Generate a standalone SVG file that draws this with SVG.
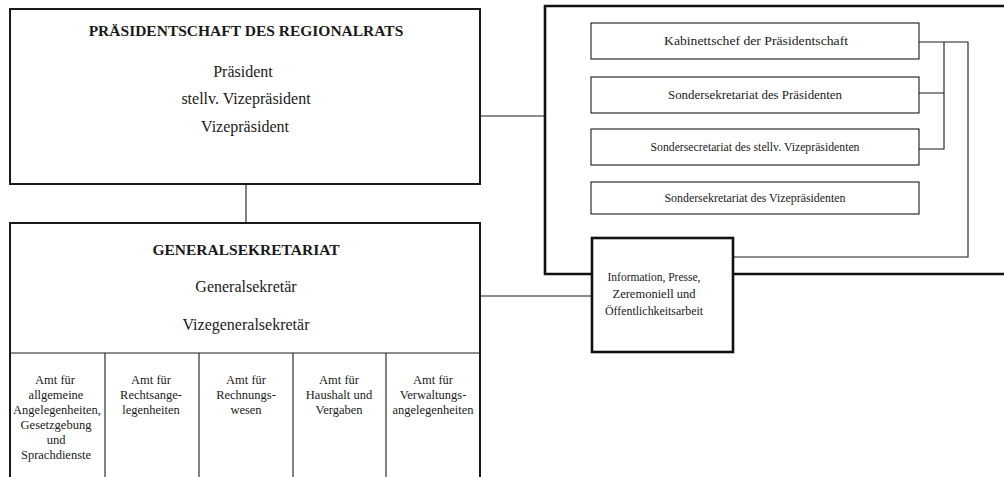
<svg xmlns="http://www.w3.org/2000/svg" width="1004" height="477" viewBox="0 0 1004 477">
<style>
text{font-family:"Liberation Serif","Times New Roman",serif;fill:#1a1a1a;text-anchor:middle}
.t{font-weight:bold;font-size:15.5px}
.m{font-size:16px}
.s{font-size:12.5px}
.c{font-size:12.5px}
.i{font-size:12px}
.thick{fill:none;stroke:#1a1a1a;stroke-width:2}
.thin{fill:none;stroke:#1a1a1a;stroke-width:1.1}
.heavy{fill:none;stroke:#111;stroke-width:2.6}
</style>
<rect width="1004" height="477" fill="#fff"/>
<g id="connectors">
<path class="heavy" d="M1004,6 H545 V274 H592 M733,274 H1004"/>
<path class="thin" d="M480,116 H545"/>
<path class="thin" d="M246,184 V223"/>
<path class="thin" d="M480,296 H592"/>
<path class="thin" d="M919,42 H968 V257 H733"/>
<path class="thin" d="M919,93 H944 M919,149 H944 V42"/>
</g>
<g id="praesidentschaft">
<rect class="thick" x="10" y="9" width="470" height="175"/>
<text class="t" x="246" y="36">PRÄSIDENTSCHAFT DES REGIONALRATS</text>
<text class="m" x="243" y="77">Präsident</text>
<text class="m" x="246" y="104">stellv. Vizepräsident</text>
<text class="m" x="245" y="132">Vizepräsident</text>
</g>
<g id="generalsekretariat">
<path class="thick" d="M10,477 V223 H480 V477"/>
<text class="t" x="246" y="255">GENERALSEKRETARIAT</text>
<text class="m" x="246" y="292">Generalsekretär</text>
<text class="m" x="246" y="330">Vizegeneralsekretär</text>
<path class="thin" d="M10,353 H480 M105,353 V477 M199,353 V477 M293,353 V477 M386,353 V477"/>
</g>
<g id="amt-allgemeine">
<text class="c" x="55" y="384">Amt für</text>
<text class="c" x="56" y="399">allgemeine</text>
<text class="c" x="57" y="414">Angelegenheiten,</text>
<text class="c" x="56" y="429">Gesetzgebung</text>
<text class="c" x="56" y="444">und</text>
<text class="c" x="56" y="459">Sprachdienste</text>
</g>
<g id="amt-recht">
<text class="c" x="151" y="384">Amt für</text>
<text class="c" x="151" y="399">Rechtsange-</text>
<text class="c" x="151" y="414">legenheiten</text>
</g>
<g id="amt-rechnung">
<text class="c" x="246" y="384">Amt für</text>
<text class="c" x="246" y="399">Rechnungs-</text>
<text class="c" x="246" y="414">wesen</text>
</g>
<g id="amt-haushalt">
<text class="c" x="339" y="384">Amt für</text>
<text class="c" x="339" y="399">Haushalt und</text>
<text class="c" x="339" y="414">Vergaben</text>
</g>
<g id="amt-verwaltung">
<text class="c" x="433" y="384">Amt für</text>
<text class="c" x="433" y="399">Verwaltungs-</text>
<text class="c" x="433" y="414">angelegenheiten</text>
</g>
<g id="kabinettschef">
<rect class="thin" x="591" y="23" width="328" height="36"/>
<text class="s" x="756" y="45" textLength="184" lengthAdjust="spacingAndGlyphs">Kabinettschef der Präsidentschaft</text>
</g>
<g id="sonder-praesident">
<rect class="thin" x="591" y="77" width="328" height="36"/>
<text class="s" x="755" y="99" textLength="174" lengthAdjust="spacingAndGlyphs">Sondersekretariat des Präsidenten</text>
</g>
<g id="sonder-stellv">
<rect class="thin" x="591" y="129" width="328" height="36"/>
<text class="s" x="755" y="151" textLength="209" lengthAdjust="spacingAndGlyphs">Sondersecretariat des stellv. Vizepräsidenten</text>
</g>
<g id="sonder-vize">
<rect class="thin" x="591" y="182" width="328" height="32"/>
<text class="s" x="755" y="202" textLength="181" lengthAdjust="spacingAndGlyphs">Sondersekretariat des Vizepräsidenten</text>
</g>
<g id="information">
<rect class="heavy" x="592" y="238" width="141" height="114"/>
<text class="i" x="654" y="281" textLength="93" lengthAdjust="spacingAndGlyphs">Information, Presse,</text>
<text class="i" x="654" y="298" textLength="83" lengthAdjust="spacingAndGlyphs">Zeremoniell und</text>
<text class="i" x="654" y="315" textLength="98" lengthAdjust="spacingAndGlyphs">Öffentlichkeitsarbeit</text>
</g>
</svg>
